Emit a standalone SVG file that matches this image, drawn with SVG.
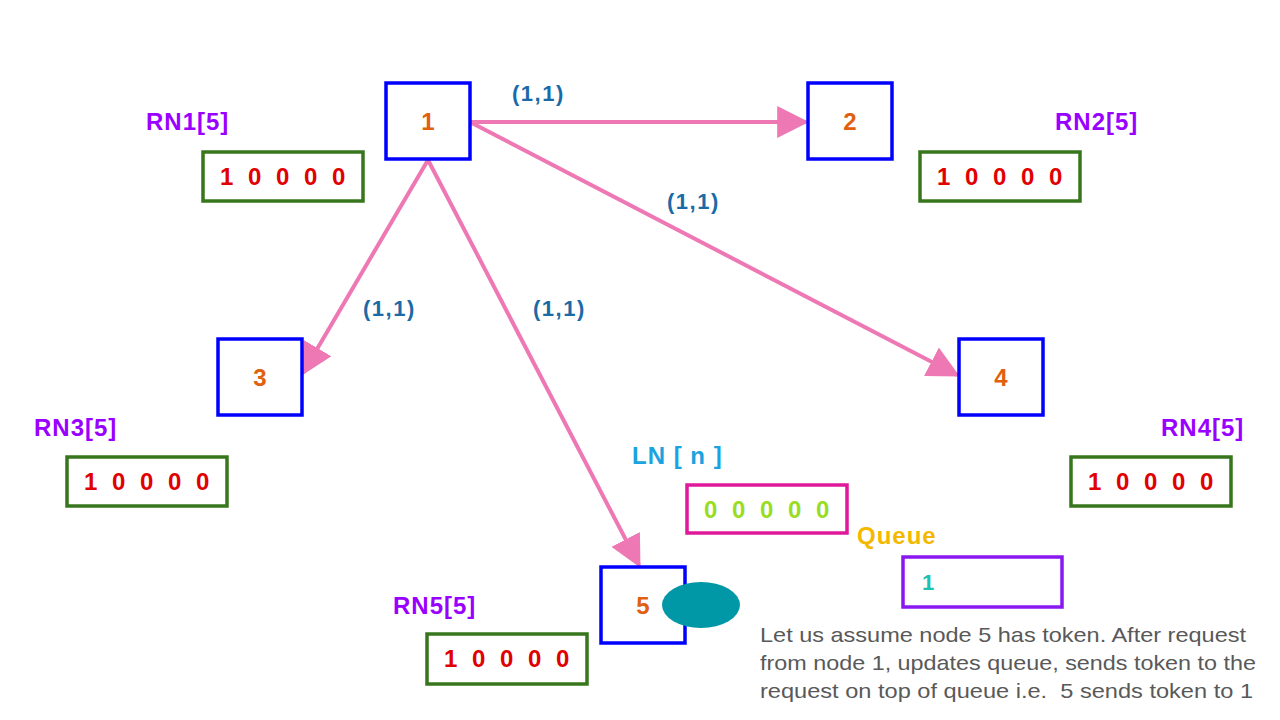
<svg xmlns="http://www.w3.org/2000/svg" width="1280" height="720" viewBox="0 0 1280 720">
<style>
.n{fill:#fff;stroke:#0000ff;stroke-width:3.5}
.nt{font:bold 24px "Liberation Sans",Arial,sans-serif;fill:#e06010;text-anchor:middle}
.rb{fill:#fff;stroke:#38761d;stroke-width:3.5}
.rv{font:bold 24px "Liberation Sans",Arial,sans-serif;fill:#e00000;word-spacing:8px}
.rl{font:bold 24px "Liberation Sans",Arial,sans-serif;fill:#9900ff;letter-spacing:1px}
.el{font:bold 22px "Liberation Sans",Arial,sans-serif;fill:#1a6aa8;letter-spacing:1.5px}
.c{stroke:#ee78b4;stroke-width:4;fill:none;marker-end:url(#a)}
.p{font:21px "Liberation Sans",Arial,sans-serif;fill:#595959}
</style>
<defs><marker id="a" viewBox="0 0 10 10" refX="9" refY="5" markerWidth="8" markerHeight="8" orient="auto" markerUnits="strokeWidth"><path d="M0,0L10,5L0,10z" fill="#ee78b4"/></marker></defs>
<rect width="1280" height="720" fill="#fff"/>
<g id="connectors">
<line class="c" x1="470" y1="122" x2="806" y2="122"/>
<line class="c" x1="470" y1="122" x2="957" y2="375"/>
<line class="c" x1="428" y1="160" x2="303" y2="373"/>
<line class="c" x1="428" y1="160" x2="639" y2="565"/>
<text class="el" x="512" y="101">(1,1)</text>
<text class="el" x="667" y="209">(1,1)</text>
<text class="el" x="363" y="316">(1,1)</text>
<text class="el" x="533" y="316">(1,1)</text>
</g>
<g id="node1"><rect class="n" x="386" y="83" width="84" height="76"/><text class="nt" x="428" y="130">1</text></g>
<g id="node2"><rect class="n" x="808" y="83" width="84" height="76"/><text class="nt" x="850" y="130">2</text></g>
<g id="node3"><rect class="n" x="218" y="339" width="84" height="76"/><text class="nt" x="260" y="386">3</text></g>
<g id="node4"><rect class="n" x="959" y="339" width="84" height="76"/><text class="nt" x="1001" y="386">4</text></g>
<g id="node5"><rect class="n" x="601" y="567" width="84" height="76"/><text class="nt" x="643" y="614">5</text></g>
<g id="token"><ellipse cx="701" cy="605" rx="39" ry="23" fill="#0097a7"/></g>
<g id="rn1"><text class="rl" x="146" y="130">RN1[5]</text><rect class="rb" x="203" y="152" width="160" height="49"/><text class="rv" x="220" y="185">1 0 0 0 0</text></g>
<g id="rn2"><text class="rl" x="1055" y="130">RN2[5]</text><rect class="rb" x="920" y="152" width="160" height="49"/><text class="rv" x="937" y="185">1 0 0 0 0</text></g>
<g id="rn3"><text class="rl" x="34" y="436">RN3[5]</text><rect class="rb" x="67" y="457" width="160" height="49"/><text class="rv" x="84" y="490">1 0 0 0 0</text></g>
<g id="rn4"><text class="rl" x="1161" y="436">RN4[5]</text><rect class="rb" x="1071" y="457" width="160" height="49"/><text class="rv" x="1088" y="490">1 0 0 0 0</text></g>
<g id="rn5"><text class="rl" x="393" y="614">RN5[5]</text><rect class="rb" x="427" y="634" width="160" height="50"/><text class="rv" x="444" y="667">1 0 0 0 0</text></g>
<g id="ln"><text x="632" y="464" style="font:bold 24px 'Liberation Sans',Arial,sans-serif;fill:#1aa3e0;letter-spacing:1px">LN [ n ]</text><rect x="687" y="485" width="160" height="48" fill="#fff" stroke="#e0189a" stroke-width="3.5"/><text class="rv" x="704" y="518" style="fill:#99dd22">0 0 0 0 0</text></g>
<g id="queue"><text x="857" y="544" style="font:bold 24px 'Liberation Sans',Arial,sans-serif;fill:#f5b800;letter-spacing:1px">Queue</text><rect x="903" y="557" width="159" height="50" fill="#fff" stroke="#8a18f0" stroke-width="3.5"/><text x="922" y="590" style="font:bold 22px 'Liberation Sans',Arial,sans-serif;fill:#20c0b0">1</text></g>
<g id="note">
<text class="p" x="760" y="642" textLength="486" lengthAdjust="spacingAndGlyphs">Let us assume node 5 has token. After request</text>
<text class="p" x="760" y="670" textLength="496" lengthAdjust="spacingAndGlyphs">from node 1, updates queue, sends token to the</text>
<text class="p" x="760" y="698" textLength="493" lengthAdjust="spacingAndGlyphs" xml:space="preserve">request on top of queue i.e.  5 sends token to 1</text>
</g>
</svg>
